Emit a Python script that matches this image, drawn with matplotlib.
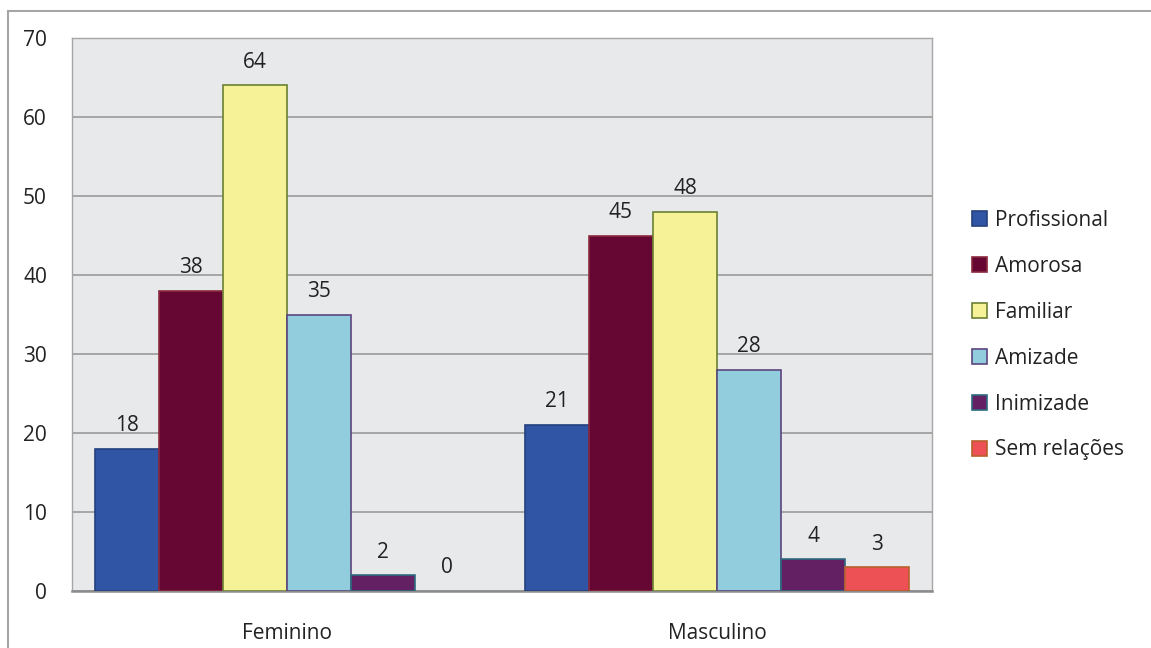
import numpy as np
import matplotlib.pyplot as plt
from matplotlib.patches import Patch

groups = ["Feminino", "Masculino"]
series = ["Profissional", "Amorosa", "Familiar", "Amizade", "Inimizade", "Sem relações"]
values = {
    "Profissional": [18, 21],
    "Amorosa": [38, 45],
    "Familiar": [64, 48],
    "Amizade": [35, 28],
    "Inimizade": [2, 4],
    "Sem relações": [0, 3],
}
fills = ["#3155A5", "#660633", "#F5F298", "#92CDDD", "#632063", "#EE5155"]
edges = ["#24407E", "#8A2A3E", "#6B8032", "#5B4580", "#2E6B80", "#B8602C"]

plt.rcParams["font.family"] = ["Open Sans", "DejaVu Sans"]
FS = 15

W, H = 1151, 648
fig = plt.figure(figsize=(W / 100, H / 100), dpi=100)

# outer chart border
fig.add_artist(plt.Line2D([8 / W, 8 / W], [0, 1 - 11 / H], color="#A6A6A6", lw=1.5))
fig.add_artist(plt.Line2D([8 / W, 1], [1 - 11 / H, 1 - 11 / H], color="#A6A6A6", lw=1.5))

ax = fig.add_axes([72 / W, 1 - 591 / H, 860 / W, 553 / H])
ax.set_facecolor("#E8E9EB")

x = np.arange(len(groups))
bw = 0.149
n = len(series)
for i, name in enumerate(series):
    pos = x + (i - (n - 1) / 2) * bw
    vals = values[name]
    bars = ax.bar(pos, vals, width=bw, color=fills[i],
                  edgecolor=[edges[i] if v > 0 else "none" for v in vals],
                  linewidth=1.2, zorder=3)
    for b, v in zip(bars, vals):
        ax.text(b.get_x() + b.get_width() / 2, v + 1.6, str(v), ha="center",
                va="bottom", fontsize=FS, color="#222222")

ax.set_xlim(-0.5, 1.5)
ax.set_ylim(0, 70)
ax.set_yticks(range(0, 71, 10))
ax.yaxis.grid(True, color="#A0A0A0", lw=1.3, zorder=0)
ax.set_axisbelow(True)
ax.set_xticks(x)
ax.set_xticklabels(groups)
ax.tick_params(axis="both", length=0, labelsize=FS, colors="#222222")
ax.tick_params(axis="y", pad=18)
ax.tick_params(axis="x", pad=23)
for s in ["top", "right", "left"]:
    ax.spines[s].set_color("#A6A6A6")
    ax.spines[s].set_linewidth(1)
ax.spines["bottom"].set_color("#8C8C8C")
ax.spines["bottom"].set_linewidth(1.8)

handles = [Patch(facecolor=fills[i], edgecolor=edges[i], linewidth=1.2) for i in range(n)]
ax.legend(handles, series, loc="center left", bbox_to_anchor=(962 / W, 1 - 335 / H),
          bbox_transform=fig.transFigure, frameon=False, fontsize=FS,
          handlelength=0.7, handleheight=0.7, handletextpad=0.4, labelspacing=1.2,
          labelcolor="#222222", borderpad=0)

fig.savefig("out.png", dpi=100)
